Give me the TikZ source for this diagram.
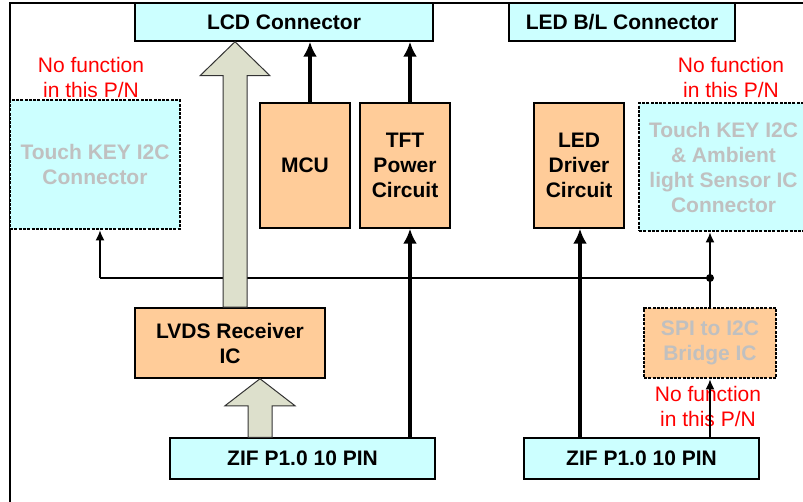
\documentclass[tikz,border=0pt]{standalone}
\usepackage{fontspec}
\setmainfont{Liberation Sans}
\definecolor{kastenblau}{RGB}{204,255,255}
\definecolor{kastenorange}{RGB}{255,204,153}
\definecolor{pfeilgrau}{RGB}{221,224,204}
\definecolor{textgrau}{RGB}{192,192,192}
\usetikzlibrary{arrows.meta, calc}

\begin{document}
\begin{tikzpicture}[x=1pt, y=-1pt,
		>={Latex[length=10pt,width=9pt]},   %Voreinstellung für Pfeilspitzen
		kasten/.style={draw, line width=1.5pt, inner sep=0pt, align=center, font=\fontsize{21}{25}\selectfont\bfseries},
		stecker/.style={kasten, fill=kastenblau},
		baustein/.style={kasten, fill=kastenorange},
		ohne/.style={dash pattern=on 3pt off 1.3pt, line width=2.8pt, text=textgrau},
		hinweis/.style={text=red, align=center, font=\fontsize{21}{25}\selectfont},
		bus/.style={line width=4pt, -{Latex[length=15pt,width=14pt]}},
		signal/.style={line width=1.5pt, ->},
		breit/.style={draw=black!80, line width=1pt, fill=pfeilgrau}]
		%Bildbereich
		\useasboundingbox (0,0) rectangle (803,502);
		\clip (0,0) rectangle (803,502);
		\draw[line width=1.5pt] (10,3) rectangle (830,530);
		% Stecker
		\node[stecker, minimum width=298pt, minimum height=38pt] (lcd) at (284,22) {LCD Connector};
		\node[stecker, minimum width=226pt, minimum height=38pt] (led) at (622,22) {LED B/L Connector};
		\node[stecker, minimum width=265pt, minimum height=41pt] (zif1) at (302.5,458.5) {ZIF P1.0 10 PIN};
		\node[stecker, minimum width=235pt, minimum height=41pt] (zif2) at (641.5,458.5) {ZIF P1.0 10 PIN};
		\node[stecker, ohne, minimum width=170pt, minimum height=129pt] (tkl) at (95,164.5) {Touch KEY I2C\\Connector};
		\node[stecker, ohne, minimum width=169pt, minimum height=128pt] (tkr) at (723.5,167) {Touch KEY I2C\\\& Ambient\\light Sensor IC\\Connector};
		% Bausteine
		\node[baustein, minimum width=90pt, minimum height=125pt] (mcu) at (305,165.5) {MCU};
		\node[baustein, minimum width=90pt, minimum height=125pt] (tft) at (405,165.5) {TFT\\Power\\Circuit};
		\node[baustein, minimum width=90pt, minimum height=125pt] (drv) at (579,165.5) {LED\\Driver\\Circuit};
		\node[baustein, minimum width=190pt, minimum height=70pt] (lvds) at (230,343) {LVDS Receiver\\IC};
		\node[baustein, ohne, minimum width=132pt, minimum height=70pt] (spi) at (710,343) {SPI to I2C\\Bridge IC};
		% Hinweise
		\node[hinweis] (h1) at (91,77) {No function\\in this P/N};
		\node[hinweis] (h2) at (731,77) {No function\\in this P/N};
		\node[hinweis] (h3) at (708,406) {No function\\in this P/N};
		% I2C Leitung
		\coordinate (kn) at (710,278);
		\coordinate (ke) at (100,278);
		\draw[line width=1.5pt] (spi.north) -- (kn) -- (ke);
		\draw[signal] (kn) -- (kn |- tkr.south);
		\draw[signal] (ke) -- (ke |- tkl.south);
		\draw[signal] (zif2.north -| spi.south) -- (spi.south);
		\fill (kn) circle (4);
		% breite Pfeile
		\foreach \x/\von/\nach/\kopf in {235/lvds/lcd/34, 260/zif1/lvds/27} {
			\coordinate (f) at (\x,0 |- \von.north);
			\coordinate (s) at (\x,0 |- \nach.south);
			\draw[breit] ($(f)+(-12,0)$) -- ($(s)+(-12,\kopf)$) -- ($(s)+(-35,\kopf)$) -- (s)
				-- ($(s)+(35,\kopf)$) -- ($(s)+(12,\kopf)$) -- ($(f)+(12,0)$) -- cycle;
		}
		% Busleitungen
		\draw[bus] (310,0 |- mcu.north) -- (310,0 |- lcd.south);
		\draw[bus] (410,0 |- tft.north) -- (410,0 |- lcd.south);
		\draw[bus] (410,0 |- zif1.north) -- (410,0 |- tft.south);
		\draw[bus] (580,0 |- zif2.north) -- (580,0 |- drv.south);
	\end{tikzpicture}
\end{document}
